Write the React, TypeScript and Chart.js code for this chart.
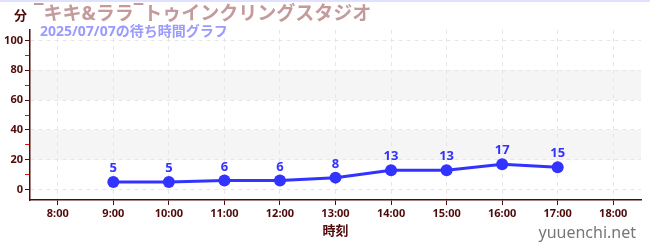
import React, { useEffect, useRef } from "react";
import { Chart, registerables } from "chart.js";
Chart.register(...registerables);

const categories = ["8:00", "9:00", "10:00", "11:00", "12:00", "13:00", "14:00", "15:00", "16:00", "17:00", "18:00"];
const waitValues: (number | null)[] = [null, 5, 5, 6, 6, 8, 13, 13, 17, 15, null];
const yTickValues = [0, 10, 20, 30, 40, 50, 60, 70, 80, 90, 100];
const bands = [[20, 40], [60, 80]];
const titleText = "‾キキ&ララ‾トゥインクリングスタジオ";
const subtitleText = "2025/07/07の待ち時間グラフ";
const yUnit = "分";
const xTitle = "時刻";
const watermark = "yuuenchi.net";

const DARK = "#500a0a";
const FONT = "'Noto Sans', 'Noto Sans CJK JP', sans-serif";

export default function App() {
  const ref = useRef<HTMLCanvasElement>(null);
  useEffect(() => {
    if (!ref.current) return;
    const deco = {
      id: "deco",
      beforeDraw(chart: any) {
        const { ctx, chartArea, scales } = chart;
        const y = scales.y;
        ctx.save();
        ctx.fillStyle = "#f5f5f5";
        for (const [a, b] of bands) {
          const top = y.getPixelForValue(b);
          const bot = y.getPixelForValue(a);
          ctx.fillRect(chartArea.left, top, chartArea.right - chartArea.left, bot - top);
        }
        ctx.restore();
      },
      afterDatasetsDraw(chart: any) {
        const { ctx } = chart;
        const meta = chart.getDatasetMeta(0);
        ctx.save();
        ctx.fillStyle = "#3333ff";
        ctx.font = `bold 13px ${FONT}`;
        ctx.textAlign = "center";
        ctx.textBaseline = "bottom";
        meta.data.forEach((pt: any, i: number) => {
          const v = waitValues[i];
          if (v == null) return;
          ctx.fillText(String(v), pt.x, pt.y - 7);
        });
        ctx.restore();
      },
      afterDraw(chart: any) {
        const { ctx, width, chartArea } = chart;
        ctx.save();
        ctx.strokeStyle = "#e0e0ff";
        ctx.lineWidth = 2;
        ctx.beginPath();
        ctx.moveTo(0, 1);
        ctx.lineTo(width, 1);
        ctx.stroke();
        ctx.textBaseline = "middle";
        ctx.textAlign = "left";
        ctx.fillStyle = "#c49a9a";
        ctx.font = `bold 19px ${FONT}`;
        ctx.fillText(titleText, 34, 15);
        ctx.fillStyle = "#9a9aff";
        ctx.font = `bold 14px ${FONT}`;
        ctx.fillText(subtitleText, 40, 32);
        ctx.fillStyle = DARK;
        ctx.font = `bold 13px ${FONT}`;
        ctx.fillText(yUnit, 14, 16);
        ctx.textAlign = "center";
        ctx.fillText(xTitle, (chartArea.left + chartArea.right) / 2, 231);
        ctx.fillStyle = "#777777";
        ctx.font = `16px ${FONT}`;
        ctx.textAlign = "right";
        ctx.fillText(watermark, 636, 233);
        ctx.restore();
      },
    };
    const chart = new Chart(ref.current, {
      type: "line",
      data: {
        labels: categories,
        datasets: [
          {
            data: waitValues,
            borderColor: "#3333ff",
            backgroundColor: "#3333ff",
            borderWidth: 3,
            pointRadius: 6,
            pointBackgroundColor: "#3333ff",
            pointBorderWidth: 0,
            spanGaps: false,
          },
        ],
      },
      options: {
        animation: false,
        responsive: false,
        layout: { padding: { top: 30, right: 9, left: 0, bottom: 0 } },
        plugins: { legend: { display: false }, tooltip: { enabled: false } },
        scales: {
          x: {
            offset: true,
            afterFit(scale: any) {
              scale.height = 50;
            },
            grid: {
              color: "#e6e6e6",
              tickColor: DARK,
              tickLength: 5,
              offset: false,
            },
            border: { color: DARK, dash: [4, 4], width: 1.5 },
            ticks: { color: DARK, font: { family: FONT, size: 11, weight: "bold" }, padding: 2, maxRotation: 0, autoSkip: false },
          },
          y: {
            min: -7,
            max: 107,
            afterBuildTicks(scale: any) {
              scale.ticks = yTickValues.map((v) => ({ value: v }));
            },
            afterFit(scale: any) {
              scale.width = 30;
            },
            grid: {
              color: (c: any) => (c.tick && c.tick.value % 20 === 0 ? "#e6e6e6" : "rgba(0,0,0,0)"),
              tickColor: (c: any) => (c.tick && c.tick.value % 20 === 0 ? DARK : "#e01010"),
              tickLength: 5,
            },
            border: { color: DARK, dash: [4, 4], width: 1.5 },
            ticks: {
              color: DARK,
              font: { family: FONT, size: 11, weight: "bold" },
              padding: 2,
              autoSkip: false,
              callback: (v: any) => (Number(v) % 20 === 0 ? String(v) : ""),
            },
          },
        },
      },
      plugins: [deco],
    } as any);
    return () => chart.destroy();
  }, []);
  return (
    <div style={{ position: "absolute", left: 0, top: 0, width: 650, height: 250 }}>
      <canvas ref={ref} width={650} height={250} />
    </div>
  );
}
